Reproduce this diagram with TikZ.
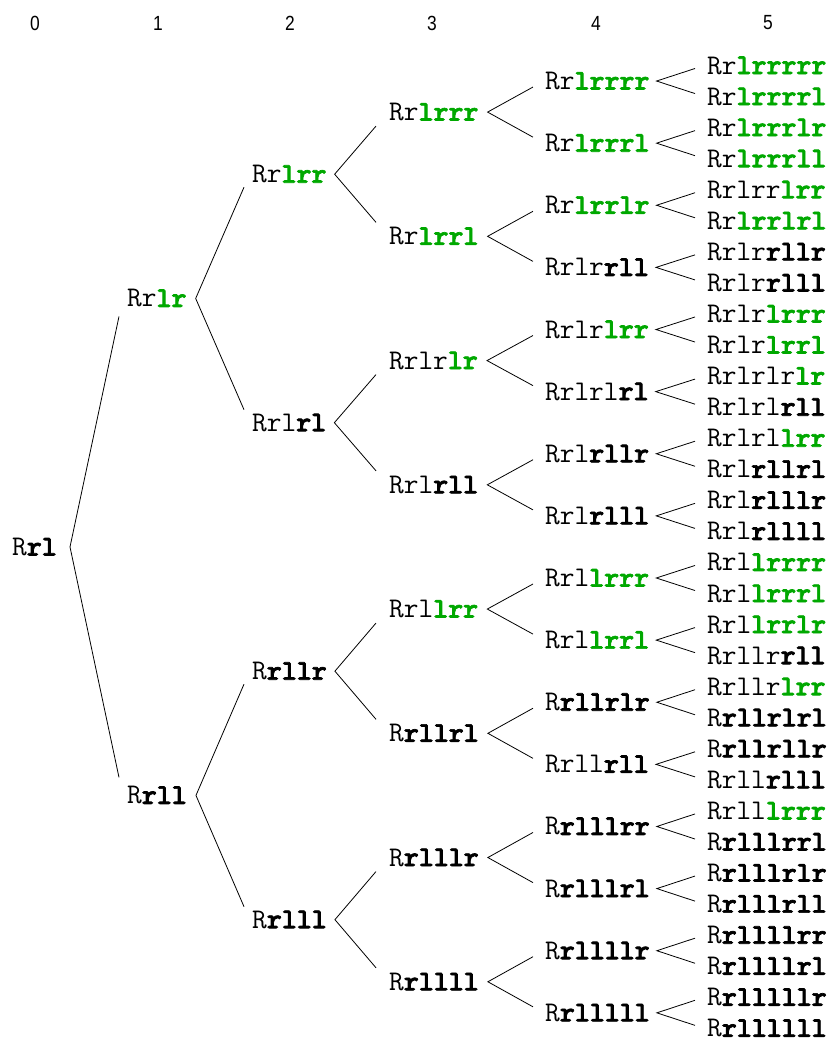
\documentclass[tikz,border=0pt]{standalone}
\usepackage{fontspec}
\newfontfamily\hdr[FakeStretch=0.85]{Liberation Sans}
\newfontfamily\monob{lmmonolt10-bold.otf}[FakeBold=2.5]
\usetikzlibrary{calc}
\definecolor{grn}{RGB}{0,168,0}
\newcommand\gr[1]{{\monob\textcolor{grn}{#1}}}
\newcommand\bd[1]{{\monob #1}}
\newcommand\fork[4]{%
  \draw[edge] ($(#10.west)+(-#3,#4)$) -- ($(#1.east)+(#2,0)$) -- ($(#11.west)+(-#3,-#4)$);}
\begin{document}
\begin{tikzpicture}[x=1bp,y=-1bp,
  lbl/.style={anchor=west,inner sep=0pt,text height=17bp,text depth=0pt,font=\ttfamily\fontsize{28.5bp}{32bp}\selectfont},
  hd/.style={inner sep=0pt,font=\hdr\fontsize{20.5bp}{22bp}\selectfont},
  edge/.style={line width=0.8bp,line join=miter}]
\useasboundingbox (0,0) rectangle (828,1044);
% header
\node[hd] (h0) at (35,23) {0};
\node[hd] (h1) at (158,23) {1};
\node[hd] (h2) at (290,23) {2};
\node[hd] (h3) at (432,23) {3};
\node[hd] (h4) at (596,23) {4};
\node[hd] (h5) at (768,23) {5};
% level 0
\node[lbl] (a) at (12,546.93) {R\bd{rl}};
% level 1
\node[lbl] (a0) at (127,{298.45+496.96*0}) {Rr\gr{lr}};
\node[lbl] (a1) at (127,{298.45+496.96*1}) {R\bd{rll}};
% level 2
\node[lbl] (a00) at (252,{174.21+248.48*0}) {Rr\gr{lrr}};
\node[lbl] (a01) at (252,{174.21+248.48*1}) {Rrl\bd{rl}};
\node[lbl] (a10) at (252,{174.21+248.48*2}) {R\bd{rllr}};
\node[lbl] (a11) at (252,{174.21+248.48*3}) {R\bd{rlll}};
% level 3
\node[lbl] (a000) at (389,{112.09+124.24*0}) {Rr\gr{lrrr}};
\node[lbl] (a001) at (389,{112.09+124.24*1}) {Rr\gr{lrrl}};
\node[lbl] (a010) at (389,{112.09+124.24*2}) {Rrlr\gr{lr}};
\node[lbl] (a011) at (389,{112.09+124.24*3}) {Rrl\bd{rll}};
\node[lbl] (a100) at (389,{112.09+124.24*4}) {Rrl\gr{lrr}};
\node[lbl] (a101) at (389,{112.09+124.24*5}) {R\bd{rllrl}};
\node[lbl] (a110) at (389,{112.09+124.24*6}) {R\bd{rlllr}};
\node[lbl] (a111) at (389,{112.09+124.24*7}) {R\bd{rllll}};
% level 4
\node[lbl] (a0000) at (545,{81.03+62.12*0}) {Rr\gr{lrrrr}};
\node[lbl] (a0001) at (545,{81.03+62.12*1}) {Rr\gr{lrrrl}};
\node[lbl] (a0010) at (545,{81.03+62.12*2}) {Rr\gr{lrrlr}};
\node[lbl] (a0011) at (545,{81.03+62.12*3}) {Rrlr\bd{rll}};
\node[lbl] (a0100) at (545,{81.03+62.12*4}) {Rrlr\gr{lrr}};
\node[lbl] (a0101) at (545,{81.03+62.12*5}) {Rrlrl\bd{rl}};
\node[lbl] (a0110) at (545,{81.03+62.12*6}) {Rrl\bd{rllr}};
\node[lbl] (a0111) at (545,{81.03+62.12*7}) {Rrl\bd{rlll}};
\node[lbl] (a1000) at (545,{81.03+62.12*8}) {Rrl\gr{lrrr}};
\node[lbl] (a1001) at (545,{81.03+62.12*9}) {Rrl\gr{lrrl}};
\node[lbl] (a1010) at (545,{81.03+62.12*10}) {R\bd{rllrlr}};
\node[lbl] (a1011) at (545,{81.03+62.12*11}) {Rrll\bd{rll}};
\node[lbl] (a1100) at (545,{81.03+62.12*12}) {R\bd{rlllrr}};
\node[lbl] (a1101) at (545,{81.03+62.12*13}) {R\bd{rlllrl}};
\node[lbl] (a1110) at (545,{81.03+62.12*14}) {R\bd{rllllr}};
\node[lbl] (a1111) at (545,{81.03+62.12*15}) {R\bd{rlllll}};
% level 5
\node[lbl] (a00000) at (707,{65.5+31.06*0}) {Rr\gr{lrrrrr}};
\node[lbl] (a00001) at (707,{65.5+31.06*1}) {Rr\gr{lrrrrl}};
\node[lbl] (a00010) at (707,{65.5+31.06*2}) {Rr\gr{lrrrlr}};
\node[lbl] (a00011) at (707,{65.5+31.06*3}) {Rr\gr{lrrrll}};
\node[lbl] (a00100) at (707,{65.5+31.06*4}) {Rrlrr\gr{lrr}};
\node[lbl] (a00101) at (707,{65.5+31.06*5}) {Rr\gr{lrrlrl}};
\node[lbl] (a00110) at (707,{65.5+31.06*6}) {Rrlr\bd{rllr}};
\node[lbl] (a00111) at (707,{65.5+31.06*7}) {Rrlr\bd{rlll}};
\node[lbl] (a01000) at (707,{65.5+31.06*8}) {Rrlr\gr{lrrr}};
\node[lbl] (a01001) at (707,{65.5+31.06*9}) {Rrlr\gr{lrrl}};
\node[lbl] (a01010) at (707,{65.5+31.06*10}) {Rrlrlr\gr{lr}};
\node[lbl] (a01011) at (707,{65.5+31.06*11}) {Rrlrl\bd{rll}};
\node[lbl] (a01100) at (707,{65.5+31.06*12}) {Rrlrl\gr{lrr}};
\node[lbl] (a01101) at (707,{65.5+31.06*13}) {Rrl\bd{rllrl}};
\node[lbl] (a01110) at (707,{65.5+31.06*14}) {Rrl\bd{rlllr}};
\node[lbl] (a01111) at (707,{65.5+31.06*15}) {Rrl\bd{rllll}};
\node[lbl] (a10000) at (707,{65.5+31.06*16}) {Rrl\gr{lrrrr}};
\node[lbl] (a10001) at (707,{65.5+31.06*17}) {Rrl\gr{lrrrl}};
\node[lbl] (a10010) at (707,{65.5+31.06*18}) {Rrl\gr{lrrlr}};
\node[lbl] (a10011) at (707,{65.5+31.06*19}) {Rrllr\bd{rll}};
\node[lbl] (a10100) at (707,{65.5+31.06*20}) {Rrllr\gr{lrr}};
\node[lbl] (a10101) at (707,{65.5+31.06*21}) {R\bd{rllrlrl}};
\node[lbl] (a10110) at (707,{65.5+31.06*22}) {R\bd{rllrllr}};
\node[lbl] (a10111) at (707,{65.5+31.06*23}) {Rrll\bd{rlll}};
\node[lbl] (a11000) at (707,{65.5+31.06*24}) {Rrll\gr{lrrr}};
\node[lbl] (a11001) at (707,{65.5+31.06*25}) {R\bd{rlllrrl}};
\node[lbl] (a11010) at (707,{65.5+31.06*26}) {R\bd{rlllrlr}};
\node[lbl] (a11011) at (707,{65.5+31.06*27}) {R\bd{rlllrll}};
\node[lbl] (a11100) at (707,{65.5+31.06*28}) {R\bd{rllllrr}};
\node[lbl] (a11101) at (707,{65.5+31.06*29}) {R\bd{rllllrl}};
\node[lbl] (a11110) at (707,{65.5+31.06*30}) {R\bd{rlllllr}};
\node[lbl] (a11111) at (707,{65.5+31.06*31}) {R\bd{rllllll}};
% connectors
\fork{a}{13}{8}{18}
\foreach \p in {a0,a1} {\fork{\p}{9}{8}{13}}
\foreach \p in {a00,a01,a10,a11} {\fork{\p}{8}{13}{14}}
\foreach \p in {a000,a001,a010,a011,a100,a101,a110,a111} {\fork{\p}{9}{12}{6}}
\foreach \p in {a0000,a0001,a0010,a0011,a0100,a0101,a0110,a0111,a1000,a1001,a1010,a1011,a1100,a1101,a1110,a1111} {\fork{\p}{7}{12}{3}}
\end{tikzpicture}
\end{document}
